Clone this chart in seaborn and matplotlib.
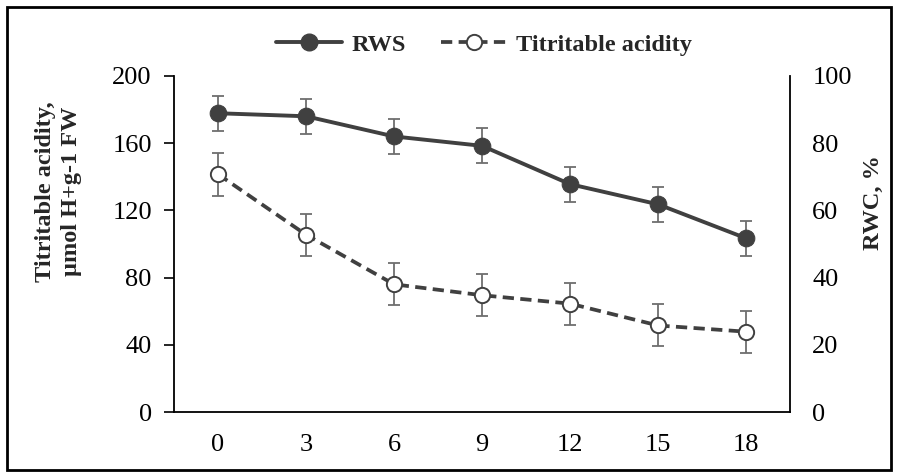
import numpy as np
import pandas as pd
import matplotlib
matplotlib.use("Agg")
import matplotlib.pyplot as plt
import seaborn as sns
from matplotlib.lines import Line2D
from matplotlib.patches import Rectangle

# dados
dias = [0, 3, 6, 9, 12, 15, 18]
acidez = [141.5, 105.5, 76, 69.5, 64.5, 51.5, 47.8]
acidez_err = [12.7, 12.5, 12.5, 12.5, 12.5, 12.5, 12.5]
rwc = [88.9, 88, 82, 79.2, 67.8, 61.8, 51.7]
rwc_err = [5.2, 5.2, 5.2, 5.2, 5.2, 5.2, 5.2]

df = pd.DataFrame({"dia": dias, "acidez": acidez, "rwc": rwc})

sns.set_style("white")
plt.rcParams["font.family"] = ["Liberation Serif", "DejaVu Serif"]

cor = "#404040"
cor_err = "#6e6e6e"
tracejado = (0, (3, 1.7))

fig = plt.figure(figsize=(8.98, 4.72), dpi=100)
ax = fig.add_axes([0.1938, 0.1271, 0.686, 0.712])
ax2 = ax.twinx()

# acidez (eixo esquerdo)
ax.errorbar(dias, acidez, yerr=acidez_err, fmt="none", ecolor=cor_err,
            elinewidth=1.3, capsize=4, capthick=1.3, zorder=2)
sns.lineplot(data=df, x="dia", y="acidez", ax=ax, color=cor, linewidth=2.7,
             linestyle=tracejado, marker="o", markersize=11,
             markerfacecolor="white", markeredgecolor=cor, markeredgewidth=1.4,
             zorder=3)

# RWC (eixo direito)
ax2.errorbar(dias, rwc, yerr=rwc_err, fmt="none", ecolor=cor_err,
             elinewidth=1.3, capsize=4, capthick=1.3, zorder=2)
sns.lineplot(data=df, x="dia", y="rwc", ax=ax2, color=cor, linewidth=2.8,
             marker="o", markersize=12, markerfacecolor=cor,
             markeredgecolor=cor, zorder=3)

ax.set_xlim(-1.5, 19.5)
ax.set_ylim(0, 200)
ax2.set_ylim(0, 100)
ax.set_xticks(dias)
ax.set_yticks(range(0, 201, 40))
ax2.set_yticks(range(0, 101, 20))
ax.set_xlabel("")
ax.set_ylabel("Titritable acidity,\nµmol H+g-1 FW", fontsize=17.5,
              fontweight="bold", linespacing=1.3)
ax.yaxis.set_label_coords(-0.149, 0.656)
ax2.set_ylabel("RWC, %", fontsize=17.5, fontweight="bold")
ax2.yaxis.set_label_coords(1.118, 0.622)

for a in (ax, ax2):
    a.spines["top"].set_visible(False)
    for s in a.spines.values():
        s.set_color("black")
        s.set_linewidth(1.3)
ax.spines["right"].set_visible(False)
ax2.spines["left"].set_visible(False)
ax2.spines["bottom"].set_visible(False)

ax.tick_params(axis="both", direction="out", length=7, width=1.2,
               labelsize=19, colors="black")
ax.tick_params(axis="x", pad=9)
ax.tick_params(axis="y", pad=9)
ax2.tick_params(axis="y", length=0, labelsize=19, pad=16, colors="black")

handles = [
    Line2D([], [], color=cor, linewidth=2.8, marker="o", markersize=12,
           markerfacecolor=cor),
    Line2D([], [], color=cor, linewidth=2.7, linestyle=tracejado,
           marker="o", markersize=11, markerfacecolor="white",
           markeredgewidth=1.4),
]
fig.legend(handles, ["RWS", "Titritable acidity"], loc="center",
           bbox_to_anchor=(0.539, 0.905), ncol=2, frameon=False,
           prop={"weight": "bold", "size": 17.5}, handlelength=2.7,
           columnspacing=1.45, handletextpad=0.4)

# moldura em volta da figura
fig.patches.append(Rectangle((0.008, 0.004), 0.984, 0.982,
                             transform=fig.transFigure, fill=False,
                             edgecolor="black", linewidth=2))

fig.savefig("out.png", dpi=100)
